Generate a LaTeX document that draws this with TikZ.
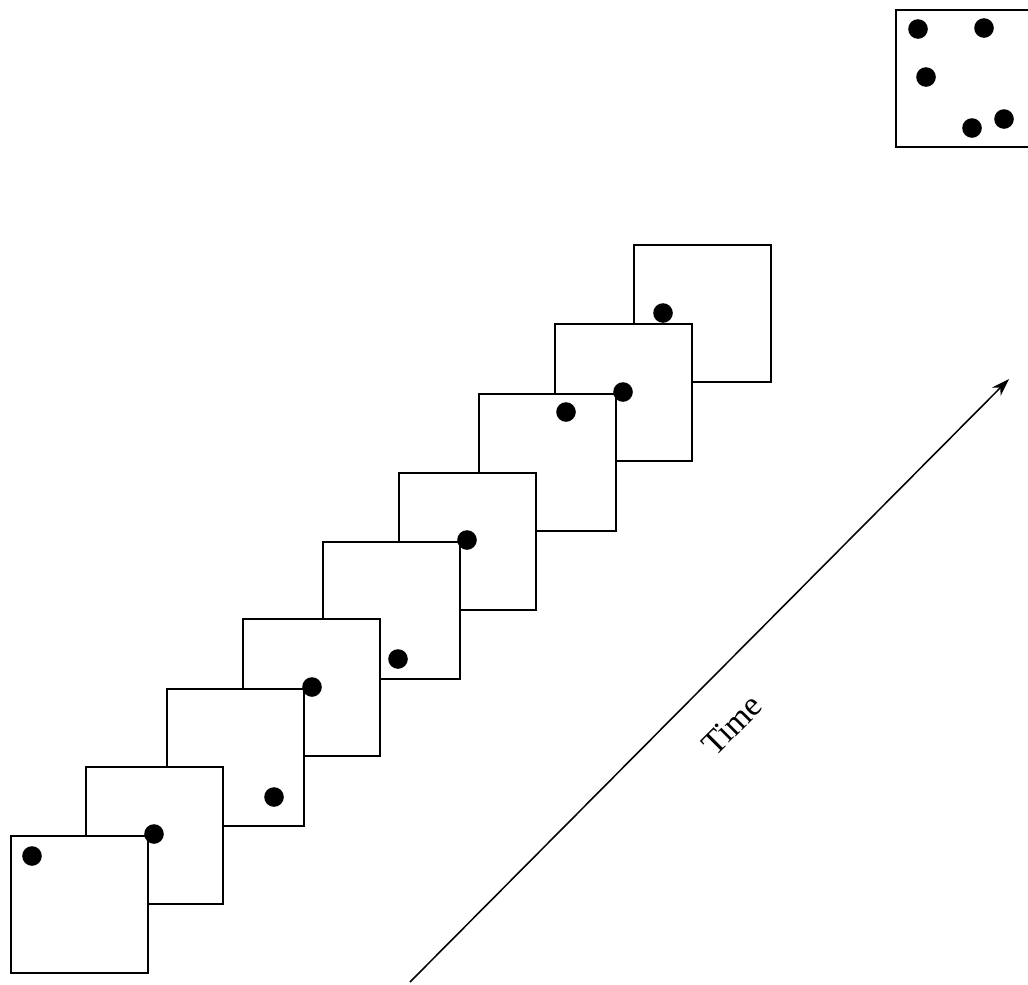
\documentclass[tikz,border=0pt]{standalone}
\usepackage{fontspec}
\setmainfont{Liberation Serif}
\usepackage{tikz}
\usetikzlibrary{arrows.meta}
\tikzset{
  snapshot/.style={draw,fill=white,line width=1.6pt,minimum size=34.25mm,inner sep=0pt},
  particle/.style={fill=black},
  timeline/.style={-{Stealth[length=4.5mm,width=3mm]},line width=1.1pt}
}

\begin{document}
\begin{tikzpicture}[x=0.25mm,y=-0.25mm]
  \useasboundingbox (0,0) rectangle (1028,984);
  % Summary frame (all positions at once)
  \node[snapshot] (f0) at (964.5,78.5) {};
  \foreach \x/\y in {918/29,984/28,926/77,972/128,1004/119} {
    \fill[particle] (\x,\y) circle (2.45mm);
  }
  % Frames, drawn back to front
  \foreach \n/\x/\y in {9/702.5/313.5,8/623.5/392.5,7/547.5/462.5,6/467.5/541.5,
      5/391.5/610.5,4/311.5/687.5,3/235.5/757.5,2/154.5/835.5,1/79.5/904.5} {
    \node[snapshot] (f\n) at (\x,\y) {};
  }
  % One particle per frame (on top of the overlaps)
  \foreach \x/\y in {32/856,154/834,274/797,312/687,398/659,467/540,566/412,623/392,663/313} {
    \fill[particle] (\x,\y) circle (2.45mm);
  }
  % Time axis
  \coordinate (t0) at (410,982);
  \coordinate (t1) at (1009,379);
  \draw[timeline] (t0) -- (t1);
  \node[rotate=45,font=\fontsize{24}{28}\selectfont] (tlabel) at (732,725) {Time};
\end{tikzpicture}
\end{document}
